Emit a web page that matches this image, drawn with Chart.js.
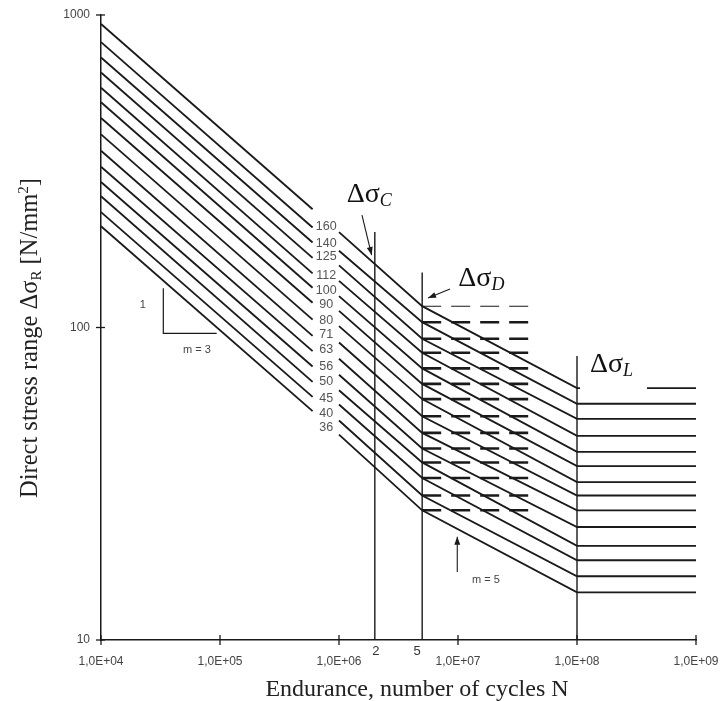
<!DOCTYPE html>
<html><head><meta charset="utf-8">
<script src="https://cdn.jsdelivr.net/npm/chart.js@4/dist/chart.umd.min.js"></script>
<style>html,body{margin:0;padding:0;background:#fff;}</style>
</head><body>
<canvas id="c" width="723" height="701"></canvas>
<script>
// ---- data ----
const categories = [160, 140, 125, 112, 100, 90, 80, 71, 63, 56, 50, 45, 40, 36];
// stress range at N = 1e4
const stressAt1e4 = [936, 819, 731, 655, 585, 526, 468, 415, 368, 327, 292, 263, 234, 211];
// end of the left m=3 segment (N = 6e5)
const stressAtGapStart = [239, 209, 187, 167, 149, 134, 120, 106, 94, 84, 75, 67, 60, 54];
// start of the right m=3 segment (N = 1e6)
const stressAtGapEnd = [202, 176, 158, 141, 126, 113, 101, 89.5, 79.4, 70.6, 63, 56.7, 50.4, 45.4];
// constant amplitude fatigue limit (N = 5e6)
const stressD = [117, 104, 92, 83, 74, 66, 59, 52, 46, 41, 37, 33, 29, 26];
// cut-off limit (N = 1e8 .. 1e9)
const stressL = [64, 57, 51, 45, 40, 36, 32, 29, 26, 23, 20, 18, 16, 14.2];
// category label positions (stress value where each label sits)
const labelStress = [211, 185, 168.5, 147, 131, 118, 105, 94.6, 84.7, 74.9, 67.1, 59.3, 53.1, 47.9];
const labelN = 7.8e5;

const N_START = 1e4, N_GAP_START = 6e5, N_GAP_END = 1e6, N_D = 5e6, N_L = 1e8, N_END = 1e9;
const N_DASH_END = 3.9e7, N_L_STUB = 1.06e8, N_L_RESUME = 3.87e8;

const xTicks = [1e4, 1e5, 1e6, 1e7, 1e8, 1e9];
const yTicks = [10, 100, 1000];

// vertical reference lines: [N, top stress]
const verticalLines = [[2e6, 202], [5e6, 150], [1e8, 81]];
// slope triangle: vertical and horizontal legs
const triangleN = [3.34e4, 9.38e4];
const triangleStress = [133.5, 95.8];
// arrows: [fromN, fromS, toN, toS]
const arrows = [[1.56e6, 229, 1.88e6, 170.6], [8.57e6, 132.8, 5.6e6, 124.3], [9.86e6, 16.5, 9.86e6, 21.4]];
// Delta sigma labels: [text, subscript, N (left edge), stress (baseline)]
const deltaLabels = [['Δσ', 'C', 1.16e6, 252.7], ['Δσ', 'D', 1.006e7, 135.8], ['Δσ', 'L', 1.285e8, 72.0]];
// small text notes: [text, N, stress]
const notes = [['1', 2.25e4, 118], ['m = 3', 6.4e4, 84.7], ['m = 5', 1.72e7, 15.6]];
const axisMarks = [['2', 2e6, 1], ['5', 5e6, -5]];

const INK = '#1a1a1a';
const SERIF = '"Liberation Serif", "DejaVu Serif", serif';
const SANS = '"Liberation Sans", Arial, sans-serif';

const base = { borderColor: INK, borderWidth: 1.85, pointRadius: 0, tension: 0, fill: false, borderCapStyle: 'butt', spanGaps: false };
const datasets = [];
categories.forEach((c, i) => {
  datasets.push(Object.assign({ label: c + ' a', data: [{x: N_START, y: stressAt1e4[i]}, {x: N_GAP_START, y: stressAtGapStart[i]}] }, base));
  const right = [{x: N_GAP_END, y: stressAtGapEnd[i]}, {x: N_D, y: stressD[i]}, {x: N_L, y: stressL[i]}];
  if (i === 0) {
    right.push({x: N_L_STUB, y: stressL[i]}, {x: N_L_STUB * 1.05, y: null}, {x: N_L_RESUME, y: stressL[i]});
  }
  right.push({x: N_END, y: stressL[i]});
  datasets.push(Object.assign({ label: c + ' b', data: right }, base));
  datasets.push(Object.assign({}, base, { label: c + ' d', data: [{x: N_D, y: stressD[i]}, {x: N_DASH_END, y: stressD[i]}],
    borderDash: [19, 10], borderWidth: i === 0 ? 1.1 : 2.6 }));
});
verticalLines.forEach(([n, top]) => {
  datasets.push(Object.assign({}, base, { label: 'v' + n, data: [{x: n, y: top}, {x: n, y: 10}], borderWidth: 1.4 }));
});
datasets.push(Object.assign({}, base, { label: 'tri', borderWidth: 1.2,
  data: [{x: triangleN[0], y: triangleStress[0]}, {x: triangleN[0], y: triangleStress[1]}, {x: triangleN[1], y: triangleStress[1]}] }));

function drawArrow(ctx, x1, y1, x2, y2) {
  ctx.beginPath(); ctx.moveTo(x1, y1); ctx.lineTo(x2, y2); ctx.stroke();
  const a = Math.atan2(y2 - y1, x2 - x1), L = 8, W = 3;
  ctx.beginPath();
  ctx.moveTo(x2, y2);
  ctx.lineTo(x2 - L * Math.cos(a) + W * Math.sin(a), y2 - L * Math.sin(a) - W * Math.cos(a));
  ctx.lineTo(x2 - L * Math.cos(a) - W * Math.sin(a), y2 - L * Math.sin(a) + W * Math.cos(a));
  ctx.closePath(); ctx.fill();
}

const overlay = {
  id: 'overlay',
  afterDraw(chart) {
    const ctx = chart.ctx, xs = chart.scales.x, ys = chart.scales.y, ca = chart.chartArea;
    ctx.save();
    ctx.strokeStyle = INK; ctx.fillStyle = INK; ctx.lineWidth = 1.3;
    // tick marks crossing the axes
    xTicks.forEach(v => { const p = xs.getPixelForValue(v); ctx.beginPath(); ctx.moveTo(p, ca.bottom - 5); ctx.lineTo(p, ca.bottom + 5); ctx.stroke(); });
    yTicks.forEach(v => { const p = ys.getPixelForValue(v); ctx.beginPath(); ctx.moveTo(ca.left - 5, p); ctx.lineTo(ca.left + 4, p); ctx.stroke(); });
    // arrows
    ctx.lineWidth = 1.1;
    arrows.forEach(([n1, s1, n2, s2]) => drawArrow(ctx, xs.getPixelForValue(n1), ys.getPixelForValue(s1), xs.getPixelForValue(n2), ys.getPixelForValue(s2)));
    // category labels
    ctx.fillStyle = '#555'; ctx.font = '12.5px ' + SANS; ctx.textAlign = 'center'; ctx.textBaseline = 'middle';
    categories.forEach((c, i) => ctx.fillText(String(c), xs.getPixelForValue(labelN), ys.getPixelForValue(labelStress[i])));
    // notes
    ctx.font = '11px ' + SANS; ctx.fillStyle = '#444';
    notes.forEach(([t, n, s]) => ctx.fillText(t, xs.getPixelForValue(n), ys.getPixelForValue(s)));
    // 2 and 5 marks under the axis
    ctx.font = '13px ' + SANS; ctx.fillStyle = '#333';
    axisMarks.forEach(([t, n, dx]) => ctx.fillText(t, xs.getPixelForValue(n) + dx, ca.bottom + 11));
    // delta sigma labels
    ctx.fillStyle = '#111'; ctx.textAlign = 'left'; ctx.textBaseline = 'alphabetic';
    deltaLabels.forEach(([t, sub, n, s]) => {
      const x = xs.getPixelForValue(n), y = ys.getPixelForValue(s);
      ctx.font = '28px ' + SERIF; ctx.fillText(t, x, y);
      const w = ctx.measureText(t).width;
      ctx.font = 'italic 18px ' + SERIF; ctx.fillText(sub, x + w, y + 4);
    });
    // x title
    ctx.fillStyle = '#222'; ctx.font = '24px ' + SERIF; ctx.textAlign = 'center';
    ctx.fillText('Endurance, number of cycles N', 417, 696);
    // y title (rotated)
    const parts = [['Direct stress range Δσ', 24.5, 0], ['R', 15, 4], [' [N/mm', 24.5, 0], ['2', 15, -9], [']', 24.5, 0]];
    let total = 0;
    parts.forEach(p => { ctx.font = p[1] + 'px ' + SERIF; p.push(ctx.measureText(p[0]).width); total += p[3]; });
    ctx.translate(37, 338); ctx.rotate(-Math.PI / 2); ctx.textAlign = 'left';
    let cx = -total / 2;
    parts.forEach(p => { ctx.font = p[1] + 'px ' + SERIF; ctx.fillText(p[0], cx, p[2]); cx += p[3]; });
    ctx.restore();
  }
};

new Chart(document.getElementById('c'), {
  type: 'line',
  data: { datasets },
  options: {
    responsive: false, animation: false, events: [],
    layout: { padding: { top: 15, right: 27, left: 0, bottom: 0 } },
    plugins: { legend: { display: false }, tooltip: { enabled: false } },
    scales: {
      x: {
        type: 'logarithmic', min: 1e4, max: 1e9,
        afterBuildTicks: s => { s.ticks = xTicks.map(v => ({ value: v })); },
        afterFit: s => { s.height = 61; s.paddingLeft = 0; s.paddingRight = 0; },
        grid: { display: false, drawTicks: false, tickLength: 0 },
        border: { display: true, color: INK, width: 1.5 },
        ticks: { autoSkip: false, maxRotation: 0, padding: 14, color: '#444', font: { family: 'Liberation Sans', size: 12 },
          callback: v => '1,0E+' + String(Math.round(Math.log10(v))).padStart(2, '0') }
      },
      y: {
        type: 'logarithmic', min: 10, max: 1000,
        afterBuildTicks: s => { s.ticks = yTicks.map(v => ({ value: v })); },
        afterFit: s => { s.width = 101; s.paddingTop = 0; s.paddingBottom = 0; },
        grid: { display: false, drawTicks: false, tickLength: 0 },
        border: { display: true, color: INK, width: 1.5 },
        ticks: { padding: 11, color: '#444', font: { family: 'Liberation Sans', size: 12 }, callback: v => String(v) }
      }
    }
  },
  plugins: [overlay]
});
</script>
</body></html>
